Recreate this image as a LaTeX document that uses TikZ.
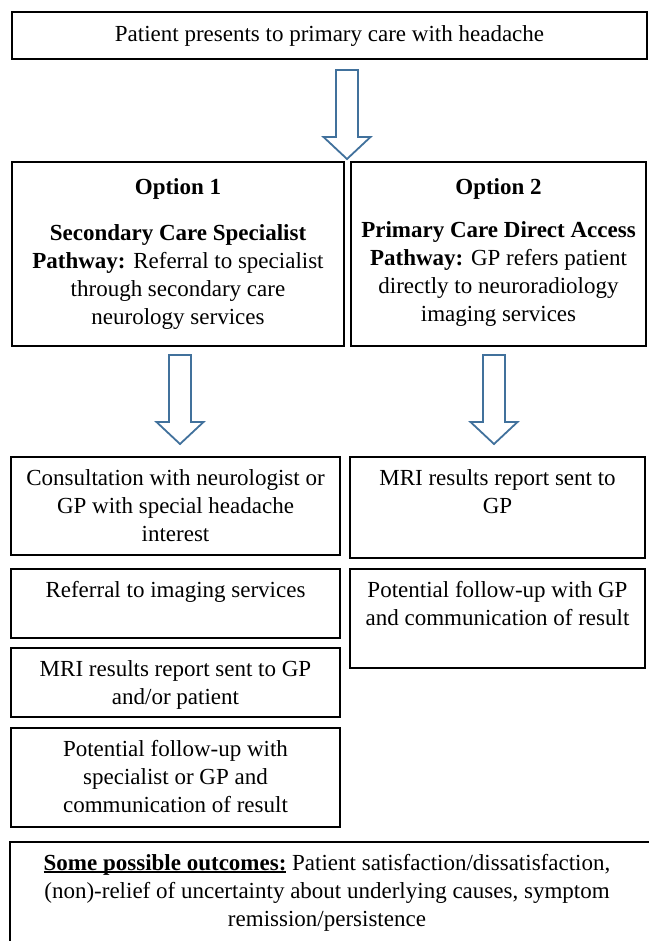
\documentclass[tikz,border=0pt]{standalone}
\usepackage{fontspec}
\setmainfont{Liberation Serif}
\usetikzlibrary{positioning}
\definecolor{arrowblue}{RGB}{65,113,156}
\newcommand\myul[1]{\setbox0\hbox{#1}\rlap{\rule[-2.6pt]{\wd0}{1.2pt}}\box0\relax}
\begin{document}
\begin{tikzpicture}[x=1pt,y=1pt,
  box/.style={draw=black, line width=1.2pt, inner sep=0pt, outer sep=0pt, anchor=north west},
  txt/.style={font=\fontsize{23}{28}\selectfont, align=center, inner sep=0pt, outer sep=0pt, anchor=north},
  arrowline/.style={draw=arrowblue, line width=1.8pt, fill=white, line join=miter},
  blockarrow/.pic={\draw[arrowline] (-11pt,0pt) -- (11pt,0pt) -- (11pt,-67pt) -- (23.5pt,-67pt) -- (0pt,-89pt) -- (-23.5pt,-67pt) -- (-11pt,-67pt) -- cycle;}
]
\useasboundingbox (0,0) rectangle (648,-941);
\fill[white] (0,0) rectangle (648,-941);

% boxes
\node[box, minimum width=635, minimum height=47] (top) at (12,-12) {};
\node[box, minimum width=332, minimum height=184] (opt1) at (12,-162) {};
\node[box, minimum width=295, minimum height=184] (opt2) at (351,-162) {};
\node[box, minimum width=329, minimum height=98] (cons) at (11,-457) {};
\node[box, minimum width=329, minimum height=69] (refl) at (11,-569) {};
\node[box, minimum width=329, minimum height=69] (mril) at (11,-648) {};
\node[box, minimum width=329, minimum height=99] (folll) at (11,-728) {};
\node[box, minimum width=295, minimum height=101] (mrir) at (350,-457) {};
\node[box, minimum width=295, minimum height=99] (follr) at (350,-569) {};
\node[box, minimum width=660, minimum height=130] (outc) at (10,-842) {};

% texts
\node[txt, below=9.5pt of top.north] (ttop) {\strut Patient presents to primary care with headache};
\node[txt, below=12.4pt of opt1.north] (topt1) {\strut\textbf{Option 1}\\[18pt]\textbf{Secondary Care Specialist}\\\textbf{Pathway:} Referral to specialist\\through secondary care\\neurology services};
\node[txt, below=12.4pt of opt2.north] (topt2) {\strut\textbf{Option 2}\\[15pt]\textbf{Primary Care Direct Access}\\\textbf{Pathway:} GP refers patient\\directly to neuroradiology\\imaging services};
\node[txt, below=8.4pt of cons.north] (tcons) {\strut Consultation with neurologist or\\GP with special headache\\interest};
\node[txt, below=8.4pt of refl.north] (trefl) {\strut Referral to imaging services};
\node[txt, below=8.4pt of mril.north] (tmril) {\strut MRI results report sent to GP\\and/or patient};
\node[txt, below=8.4pt of folll.north] (tfolll) {\strut Potential follow-up with\\specialist or GP and\\communication of result};
\node[txt, below=8.4pt of mrir.north] (tmrir) {\strut MRI results report sent to\\GP};
\node[txt, below=8.4pt of follr.north] (tfollr) {\strut Potential follow-up with GP\\and communication of result};
\node[txt] (toutc) at (327,-850.4) {\strut\myul{\textbf{Some possible outcomes:}} Patient satisfaction/dissatisfaction,\\(non)-relief of uncertainty about underlying causes, symptom\\remission/persistence};

% block arrows
\coordinate (a1) at (347,-70);
\coordinate (a2) at (180,-355);
\coordinate (a3) at (494,-355);
\pic at (a1) {blockarrow};
\pic at (a2) {blockarrow};
\pic at (a3) {blockarrow};
\end{tikzpicture}
\end{document}
